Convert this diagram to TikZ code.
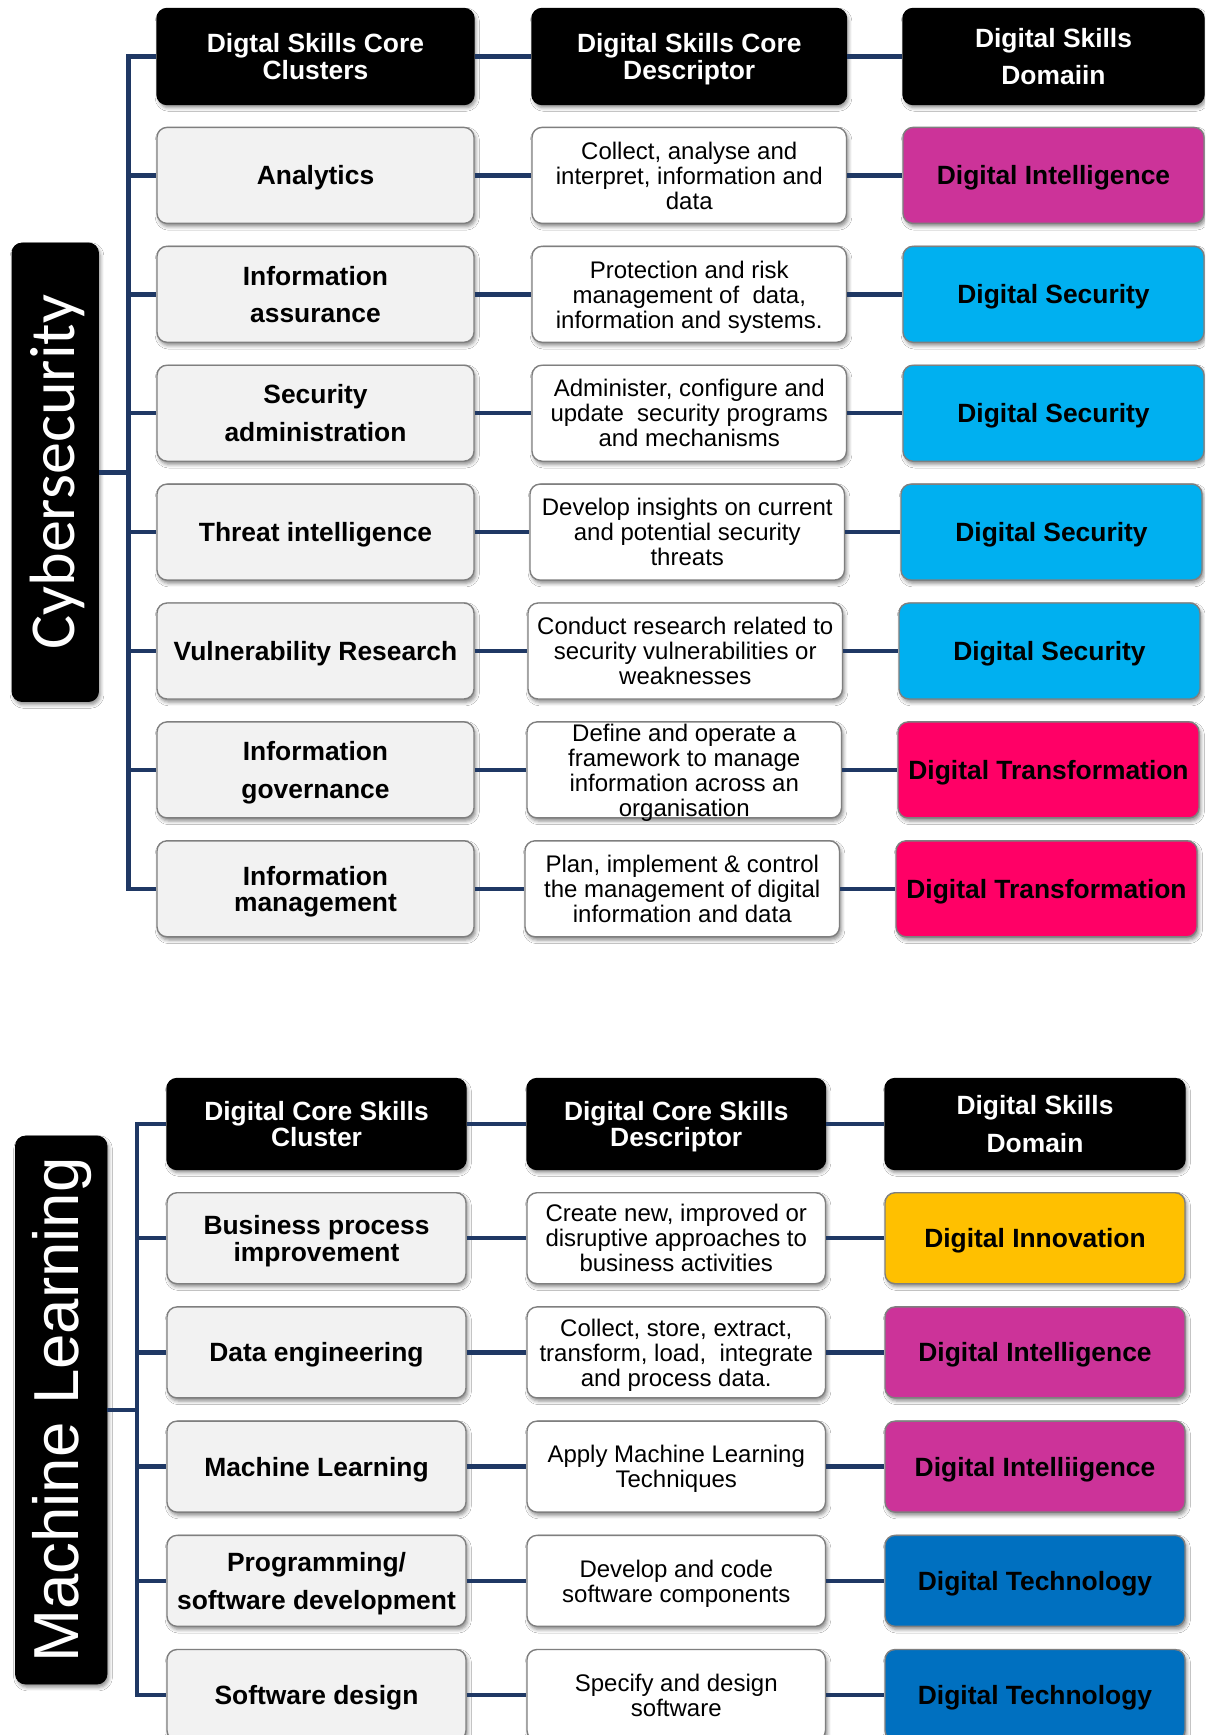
\documentclass[tikz,border=0pt]{standalone}
\usepackage{fontspec}
\setmainfont{Liberation Sans}
\newfontfamily\calibrifont{Carlito}
\usetikzlibrary{shadows.blur}

\definecolor{conncol}{HTML}{1F3864}
\definecolor{boxline}{HTML}{7F7F7F}
\definecolor{lightfill}{HTML}{F2F2F2}
\definecolor{dintel}{HTML}{CC3399}
\definecolor{dsec}{HTML}{00B0F0}
\definecolor{dtrans}{HTML}{FF0066}
\definecolor{dinno}{HTML}{FFC000}
\definecolor{dtech}{HTML}{0070C0}

\newcommand\boldtight{\fontsize{13.2}{13.25}\selectfont\bfseries}
\newcommand\boldwide{\fontsize{13.2}{18.8}\selectfont\bfseries}
\newcommand\regtext{\fontsize{12}{12.5}\selectfont}

\tikzset{
  card/.style={rounded corners=5pt, draw=boxline, line width=0.7pt,
    align=center, inner sep=0pt, text depth=0pt,
    blur shadow={shadow xshift=0.9pt, shadow yshift=-1.6pt,
      shadow blur radius=1.8pt, shadow opacity=45}},
  hdr/.style={card, fill=black, draw=black, text=white, font=\boldtight},
  hdrwide/.style={hdr, font=\boldwide},
  cluster/.style={card, fill=lightfill, font=\boldtight},
  clusterwide/.style={cluster, font=\boldwide},
  desc/.style={card, fill=white, font=\regtext},
  domainbox/.style={card, font=\boldtight},
  sidebox/.style={rounded corners=5pt, fill=black, draw=black, inner sep=0pt,
    blur shadow={shadow xshift=0.9pt, shadow yshift=-1.6pt,
      shadow blur radius=1.8pt, shadow opacity=45}},
  conn/.style={draw=conncol, line width=2.25pt, line join=miter},
}

% header row: prefix, y, three texts
\newcommand\headerrow[5]{%
  \node[hdr, colA] (#1-a-1) at (\xa,#2) {#3};
  \node[hdr, colB] (#1-b-1) at (\xb,#2) {#4};
  \node[hdrwide, colC] (#1-c-1) at (\xc,#2) {#5};
  \draw[conn] (#1-a-1) -- (#1-b-1);
  \draw[conn] (#1-b-1) -- (#1-c-1);
}
% skill row: prefix, index, y, x-drift, cluster style, cluster, descriptor, domain colour, domain
\newcommand\skillrow[9]{%
  \node[#5, colA] (#1-a-#2) at (\xa,#3) {#6};
  \node[desc, colB] (#1-b-#2) at ({\xb+(#4)},#3) {#7};
  \node[domainbox, fill=#8, colC] (#1-c-#2) at ({\xc+(#4)},#3) {#9};
  \draw[conn] (#1-a-#2) -- (#1-b-#2);
  \draw[conn] (#1-b-#2) -- (#1-c-#2);
}

\begin{document}
\begin{tikzpicture}[x=0.5pt, y=-0.5pt]
\useasboundingbox (0,0) rectangle (1205,1735);
\fill[white] (0,0) rectangle (1205,1735);
\clip (0,0) rectangle (1205,1735);

% ---------------- Cybersecurity ----------------
\begin{scope}[colA/.style={minimum width=158.5pt, minimum height=48pt},
              colB/.style={minimum width=157.25pt, minimum height=48pt},
              colC/.style={minimum width=150.5pt, minimum height=48pt}]
\def\xa{315.5}\def\xb{689.25}\def\xc{1053.5}
\headerrow{cyb}{56.5}{Digtal Skills Core\\Clusters}{Digital Skills Core\\Descriptor}{Digital Skills\\Domaiin}
\skillrow{cyb}{2}{175.4}{0}{cluster}{Analytics}
  {Collect, analyse and\\interpret, information and\\data}{dintel}{Digital Intelligence}
\skillrow{cyb}{3}{294.3}{0}{clusterwide}{Information\\assurance}
  {Protection and risk\\management of\ \ data,\\information and systems.}{dsec}{Digital Security}
\skillrow{cyb}{4}{413.2}{0}{clusterwide}{Security\\administration}
  {Administer, configure and\\update\ \ security programs\\and mechanisms}{dsec}{Digital Security}
\skillrow{cyb}{5}{532.1}{-2}{cluster}{Threat intelligence}
  {Develop insights on current\\and potential security\\threats}{dsec}{Digital Security}
\skillrow{cyb}{6}{651.0}{-4}{cluster}{Vulnerability Research}
  {Conduct research related to\\security vulnerabilities or\\weaknesses}{dsec}{Digital Security}
\skillrow{cyb}{7}{769.9}{-5}{clusterwide}{Information\\governance}
  {Define and operate a\\framework to manage\\information across an\\organisation}{dtrans}{Digital Transformation}
\skillrow{cyb}{8}{888.8}{-7}{cluster}{Information\\management}
  {Plan, implement \& control\\the management of digital\\information and data}{dtrans}{Digital Transformation}

\coordinate (cyb-top) at (128.5,56.5);
\coordinate (cyb-bot) at (128.5,888.8);
\draw[conn] (cyb-a-1.west) -- (cyb-top) -- (cyb-bot) -- (cyb-a-8.west);
\foreach \i in {2,...,7} \draw[conn] (cyb-top |- cyb-a-\i.west) -- (cyb-a-\i.west);

\node[sidebox, minimum width=43.25pt, minimum height=229.25pt] (cyb-lbl) at (55.25,472.25) {};
\node[rotate=90, text=white, inner sep=0pt, font=\calibrifont\fontsize{32}{32}\selectfont]
  (cyb-lbl-text) at (57.5,472.25) {Cybersecurity};
\draw[conn] (cyb-lbl.east) -- (cyb-top |- cyb-lbl.east);
\end{scope}

% ---------------- Machine Learning ----------------
\begin{scope}[colA/.style={minimum width=149.5pt, minimum height=45.5pt},
              colB/.style={minimum width=149.25pt, minimum height=45.5pt},
              colC/.style={minimum width=150pt, minimum height=45.5pt}]
\def\xa{316.5}\def\xb{676.25}\def\xc{1035}
\headerrow{ml}{1124}{Digital Core Skills\\Cluster}{Digital Core Skills\\Descriptor}{Digital Skills\\Domain}
\skillrow{ml}{2}{1238.2}{0}{cluster}{Business process\\improvement}
  {Create new, improved or\\disruptive approaches to\\business activities}{dinno}{Digital Innovation}
\skillrow{ml}{3}{1352.4}{0}{cluster}{Data engineering}
  {Collect, store, extract,\\transform, load,\ \ integrate\\and process data.}{dintel}{Digital Intelligence}
\skillrow{ml}{4}{1466.6}{0}{cluster}{Machine Learning}
  {Apply Machine Learning\\Techniques}{dintel}{Digital Intelliigence}
\skillrow{ml}{5}{1580.8}{0}{clusterwide}{Programming/\\software development}
  {Develop and code\\software components}{dtech}{Digital Technology}
\skillrow{ml}{6}{1695}{0}{cluster}{Software design}
  {Specify and design\\software}{dtech}{Digital Technology}

\coordinate (ml-top) at (137,1124);
\coordinate (ml-bot) at (137,1695);
\draw[conn] (ml-a-1.west) -- (ml-top) -- (ml-bot) -- (ml-a-6.west);
\foreach \i in {2,...,5} \draw[conn] (ml-top |- ml-a-\i.west) -- (ml-a-\i.west);

\node[sidebox, minimum width=45.75pt, minimum height=274pt] (ml-lbl) at (61.25,1410) {};
\node[rotate=90, text=white, inner sep=0pt, font=\fontsize{31.8}{31.8}\selectfont]
  (ml-lbl-text) at (62,1410) {Machine Learning};
\draw[conn] (ml-lbl.east) -- (ml-top |- ml-lbl.east);
\end{scope}
\end{tikzpicture}
\end{document}
